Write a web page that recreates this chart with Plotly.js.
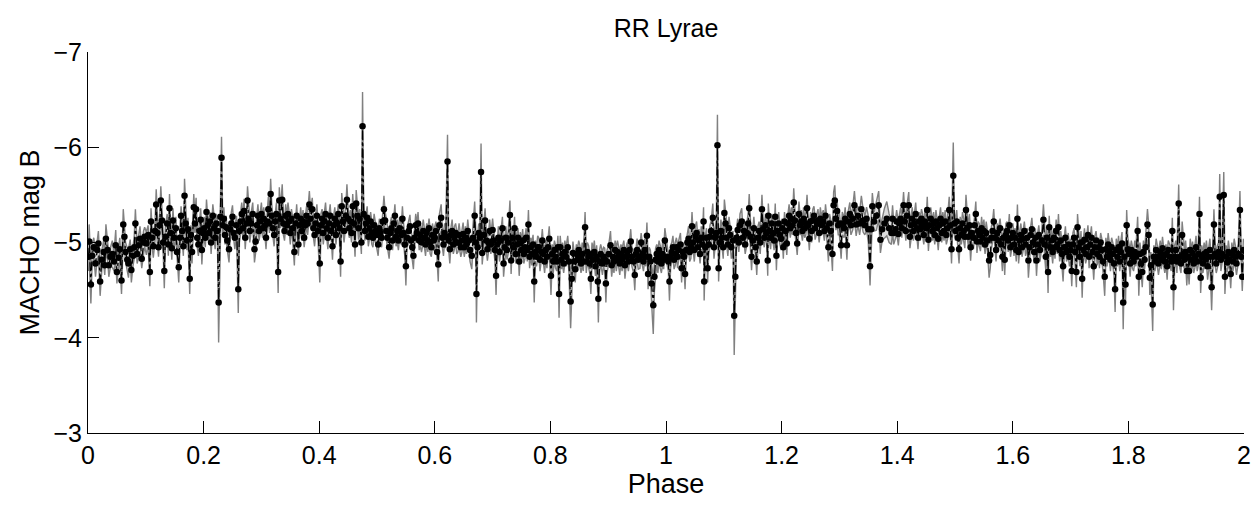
<!DOCTYPE html>
<html>
<head>
<meta charset="utf-8">
<script src="https://cdn.plot.ly/plotly-3.0.1.min.js"></script>
<style>html,body{margin:0;padding:0;background:#fff;}#chart{width:1257px;height:505px;}</style>
</head>
<body>
<div id="chart"></div>
<script>
// Observation phase (two cycles)
const phase = [
0.001,0.002,0.005,0.007,0.010,0.013,0.016,0.018,0.021,0.024,0.027,0.029,0.031,0.034,0.036,0.039,0.042,0.045,0.048,0.050,0.053,0.055,0.058,0.061,0.063,0.065,0.068,0.070,0.073,0.075,0.078,0.080,0.082,0.085,0.088,0.090,0.093,0.096,0.098,
0.101,0.104,0.107,0.109,0.111,0.113,0.116,0.118,0.120,0.122,0.124,0.126,0.128,0.130,0.132,0.134,0.137,0.139,0.141,0.143,0.145,0.147,0.149,0.152,0.154,0.157,0.159,0.161,0.163,0.165,0.167,0.169,0.171,0.173,0.176,0.178,0.180,0.183,0.185,0.187,0.189,0.191,0.193,0.195,0.197,0.199,
0.201,0.203,0.205,0.207,0.209,0.211,0.213,0.216,0.218,0.220,0.222,0.224,0.226,0.229,0.231,0.233,0.235,0.237,0.239,0.241,0.244,0.246,0.248,0.250,0.252,0.254,0.257,0.260,0.262,0.264,0.266,0.268,0.270,0.272,0.274,0.276,0.278,0.280,0.282,0.285,0.288,0.290,0.292,0.294,0.296,0.298,
0.300,0.302,0.304,0.306,0.308,0.310,0.312,0.314,0.316,0.318,0.320,0.322,0.324,0.326,0.329,0.331,0.333,0.336,0.338,0.340,0.342,0.344,0.346,0.348,0.350,0.352,0.354,0.357,0.359,0.361,0.364,0.366,0.368,0.370,0.372,0.374,0.376,0.378,0.380,0.383,0.385,0.388,0.390,0.392,0.394,0.396,0.398,
0.401,0.403,0.405,0.407,0.409,0.411,0.413,0.415,0.417,0.419,0.421,0.423,0.425,0.427,0.429,0.431,0.433,0.435,0.437,0.439,0.441,0.443,0.446,0.448,0.450,0.452,0.454,0.456,0.458,0.460,0.462,0.464,0.466,0.468,0.470,0.473,0.475,0.477,0.479,0.481,0.483,0.485,0.487,0.489,0.491,0.493,0.495,0.497,0.499,
0.502,0.504,0.506,0.508,0.510,0.512,0.514,0.516,0.518,0.521,0.523,0.525,0.527,0.529,0.531,0.533,0.535,0.537,0.539,0.542,0.544,0.546,0.548,0.550,0.552,0.555,0.557,0.559,0.561,0.563,0.565,0.567,0.569,0.571,0.573,0.575,0.577,0.580,0.582,0.584,0.586,0.588,0.590,0.592,0.594,0.596,0.598,
0.600,0.602,0.604,0.606,0.608,0.611,0.613,0.615,0.617,0.619,0.622,0.624,0.626,0.628,0.630,0.632,0.634,0.636,0.638,0.640,0.642,0.645,0.647,0.649,0.651,0.653,0.655,0.657,0.659,0.661,0.664,0.666,0.669,0.671,0.672,0.674,0.676,0.678,0.680,0.682,0.685,0.687,0.689,0.691,0.693,0.695,0.697,0.700,
0.702,0.704,0.706,0.708,0.710,0.712,0.714,0.717,0.719,0.721,0.723,0.725,0.727,0.730,0.732,0.734,0.736,0.738,0.740,0.742,0.744,0.746,0.748,0.750,0.752,0.754,0.756,0.758,0.760,0.762,0.764,0.766,0.768,0.770,0.772,0.774,0.776,0.778,0.780,0.782,0.784,0.786,0.788,0.790,0.792,0.794,0.796,0.798,
0.801,0.803,0.805,0.807,0.809,0.811,0.813,0.815,0.817,0.819,0.821,0.823,0.825,0.827,0.830,0.832,0.835,0.837,0.839,0.841,0.843,0.845,0.847,0.849,0.851,0.853,0.855,0.857,0.860,0.862,0.864,0.866,0.868,0.870,0.872,0.874,0.876,0.878,0.880,0.882,0.883,0.885,0.887,0.890,0.892,0.894,0.896,0.898,
0.901,0.904,0.906,0.908,0.910,0.912,0.914,0.916,0.918,0.920,0.922,0.924,0.927,0.929,0.931,0.933,0.935,0.937,0.939,0.941,0.944,0.946,0.948,0.950,0.952,0.955,0.957,0.959,0.961,0.963,0.965,0.967,0.969,0.971,0.973,0.975,0.978,0.980,0.982,0.984,0.986,0.988,0.990,0.992,0.994,0.996,0.998,
1.002,1.004,1.006,1.008,1.010,1.012,1.014,1.016,1.018,1.020,1.022,1.025,1.027,1.029,1.031,1.033,1.035,1.037,1.039,1.041,1.043,1.045,1.047,1.049,1.051,1.053,1.055,1.057,1.059,1.061,1.063,1.065,1.066,1.068,1.070,1.072,1.074,1.076,1.078,1.081,1.083,1.085,1.087,1.089,1.091,1.093,1.095,1.097,1.099,
1.101,1.103,1.105,1.107,1.109,1.111,1.113,1.116,1.118,1.120,1.122,1.124,1.126,1.128,1.131,1.133,1.135,1.137,1.140,1.142,1.144,1.146,1.148,1.150,1.152,1.155,1.157,1.159,1.161,1.163,1.166,1.168,1.170,1.172,1.174,1.176,1.177,1.179,1.181,1.183,1.185,1.187,1.189,1.191,1.193,1.195,1.197,1.199,
1.201,1.203,1.205,1.207,1.209,1.211,1.213,1.215,1.217,1.219,1.221,1.223,1.225,1.227,1.230,1.232,1.234,1.236,1.238,1.240,1.242,1.244,1.246,1.248,1.250,1.252,1.254,1.256,1.258,1.261,1.263,1.265,1.267,1.269,1.272,1.274,1.276,1.278,1.281,1.283,1.285,1.288,1.290,1.292,1.294,1.296,1.298,
1.300,1.303,1.305,1.308,1.310,1.313,1.315,1.318,1.320,1.323,1.326,1.329,1.332,1.335,1.338,1.341,1.344,1.347,1.350,1.353,1.355,1.357,1.360,1.364,1.368,1.371,1.374,1.378,1.382,1.386,1.390,1.392,1.394,1.397,1.399,
1.402,1.404,1.406,1.408,1.411,1.413,1.415,1.417,1.420,1.422,1.424,1.426,1.428,1.430,1.432,1.434,1.436,1.438,1.440,1.442,1.444,1.446,1.448,1.450,1.452,1.454,1.456,1.458,1.461,1.463,1.465,1.467,1.469,1.471,1.473,1.475,1.477,1.479,1.481,1.483,1.485,1.487,1.490,1.492,1.494,1.497,1.499,
1.501,1.503,1.505,1.507,1.509,1.511,1.513,1.515,1.517,1.519,1.521,1.523,1.525,1.527,1.529,1.532,1.534,1.536,1.538,1.540,1.542,1.544,1.546,1.548,1.550,1.552,1.554,1.556,1.559,1.561,1.563,1.565,1.567,1.569,1.571,1.573,1.575,1.578,1.580,1.582,1.584,1.586,1.588,1.590,1.592,1.594,1.596,1.598,
1.600,1.602,1.604,1.606,1.608,1.610,1.612,1.614,1.616,1.618,1.620,1.622,1.625,1.627,1.629,1.631,1.633,1.635,1.637,1.639,1.641,1.643,1.645,1.647,1.650,1.653,1.655,1.657,1.659,1.661,1.663,1.665,1.667,1.669,1.671,1.673,1.675,1.677,1.679,1.681,1.683,1.685,1.687,1.689,1.691,1.693,1.696,1.698,1.700,
1.702,1.704,1.706,1.708,1.710,1.712,1.714,1.716,1.718,1.720,1.722,1.724,1.726,1.728,1.730,1.732,1.734,1.736,1.738,1.740,1.742,1.744,1.746,1.748,1.750,1.752,1.754,1.756,1.759,1.761,1.763,1.765,1.767,1.769,1.771,1.773,1.775,1.777,1.779,1.781,1.783,1.785,1.787,1.789,1.791,1.793,1.795,1.797,1.799,
1.801,1.803,1.805,1.807,1.809,1.811,1.813,1.816,1.818,1.820,1.822,1.824,1.826,1.828,1.830,1.833,1.835,1.837,1.839,1.842,1.844,1.846,1.848,1.850,1.852,1.855,1.857,1.859,1.861,1.863,1.865,1.867,1.869,1.872,1.874,1.876,1.878,1.880,1.882,1.884,1.887,1.889,1.891,1.893,1.895,1.897,1.899,
1.901,1.903,1.905,1.907,1.909,1.911,1.913,1.915,1.917,1.919,1.921,1.923,1.925,1.927,1.929,1.931,1.933,1.935,1.937,1.939,1.941,1.944,1.946,1.948,1.950,1.952,1.954,1.956,1.958,1.960,1.962,1.965,1.967,1.969,1.971,1.973,1.975,1.977,1.979,1.981,1.983,1.985,1.987,1.990,1.993,1.995,1.997,1.999
];

// MACHO B magnitude at each phase
const magB = [
-4.85,-5.01,-4.56,-4.86,-4.95,-4.78,-4.92,-4.99,-4.59,-4.82,-4.90,-4.76,-5.04,-4.92,-4.76,-4.85,-4.88,-4.80,-4.97,-4.69,-4.84,-4.93,-4.60,-5.19,-5.06,-4.90,-4.82,-4.78,-4.93,-4.71,-4.86,-4.95,-5.20,-4.88,-4.97,-5.04,-4.83,-5.00,-5.06,
-4.99,-5.08,-4.69,-5.22,-5.05,-4.96,-5.12,-5.40,-5.10,-4.95,-5.18,-5.44,-5.23,-5.00,-4.70,-5.06,-5.20,-4.98,-5.36,-5.10,-4.94,-5.23,-5.05,-5.15,-4.90,-4.74,-5.05,-5.28,-5.12,-4.96,-5.49,-5.20,-5.02,-5.14,-4.62,-5.08,-4.90,-5.37,-5.20,-5.35,-5.05,-4.98,-5.12,-5.24,-4.92,-5.10,
-5.15,-5.05,-5.32,-5.18,-5.10,-5.22,-5.00,-5.28,-5.15,-5.05,-5.20,-5.12,-4.37,-5.27,-5.89,-5.18,-5.25,-5.08,-5.16,-5.02,-4.93,-5.14,-5.20,-5.27,-5.10,-5.05,-5.18,-4.51,-5.12,-5.22,-5.30,-5.15,-5.33,-5.05,-5.20,-5.44,-5.25,-5.12,-5.20,-5.30,-4.93,-5.01,-5.18,-5.28,-5.12,-5.22,
-5.30,-5.15,-5.25,-5.18,-5.05,-5.22,-5.35,-5.20,-5.51,-5.28,-5.15,-5.08,-5.22,-5.30,-4.69,-5.44,-5.25,-5.45,-5.20,-5.12,-5.28,-5.18,-5.30,-5.22,-5.10,-5.25,-5.15,-4.90,-5.20,-5.28,-4.98,-5.18,-5.25,-5.12,-5.22,-5.05,-5.18,-5.28,-5.20,-5.40,-5.25,-5.35,-5.15,-5.08,-5.20,-5.28,-5.12,
-4.78,-5.18,-5.25,-5.10,-5.22,-5.30,-5.15,-5.05,-5.20,-5.28,-5.12,-4.96,-5.18,-5.25,-5.08,-5.20,-5.30,-5.15,-4.80,-5.38,-5.22,-5.12,-5.28,-5.45,-5.25,-5.15,-5.22,-5.10,-5.38,-5.20,-4.98,-5.41,-5.28,-5.15,-5.25,-5.00,-6.22,-5.30,-5.12,-5.20,-5.26,-5.06,-5.15,-5.22,-5.10,-5.05,-5.18,-5.12,-5.08,
-4.98,-5.15,-5.10,-5.05,-5.22,-5.35,-5.23,-5.12,-5.05,-4.95,-5.10,-5.15,-5.02,-5.20,-5.28,-5.06,-5.12,-5.02,-5.15,-5.08,-5.25,-5.10,-4.98,-4.75,-5.05,-5.12,-5.17,-5.02,-4.95,-4.86,-5.05,-5.18,-5.10,-5.20,-5.02,-5.08,-5.00,-5.12,-5.05,-4.98,-5.10,-5.02,-5.15,-5.00,-4.95,-5.08,-5.02,
-5.05,-5.12,-4.90,-4.77,-5.18,-5.26,-5.05,-4.98,-5.10,-5.06,-5.85,-5.02,-4.93,-5.08,-5.12,-4.98,-5.05,-5.10,-5.00,-5.00,-5.08,-4.95,-5.02,-5.09,-4.95,-5.05,-4.98,-5.12,-5.02,-4.92,-4.86,-5.05,-5.28,-5.00,-4.46,-4.95,-5.10,-5.05,-5.74,-4.89,-5.08,-5.23,-5.02,-4.93,-5.00,-5.12,-4.98,-5.13,
-5.02,-4.92,-4.65,-4.98,-5.05,-4.90,-5.02,-5.15,-4.78,-4.95,-5.05,-4.92,-5.00,-5.29,-4.81,-5.05,-4.95,-5.15,-4.88,-4.98,-5.05,-4.80,-4.99,-4.92,-5.02,-4.88,-4.95,-5.05,-4.92,-5.19,-4.85,-4.95,-4.88,-4.98,-4.59,-4.90,-4.85,-4.95,-4.95,-4.82,-4.90,-5.02,-4.88,-4.80,-4.92,-4.85,-4.95,-5.04,
-4.65,-4.88,-4.80,-4.92,-4.85,-4.80,-4.95,-4.46,-4.95,-4.82,-4.88,-4.78,-4.90,-4.85,-4.95,-4.80,-4.38,-4.62,-4.89,-4.80,-4.72,-4.88,-4.82,-4.92,-4.85,-4.78,-4.88,-4.80,-5.16,-4.80,-4.90,-4.85,-4.78,-4.62,-4.88,-4.82,-4.90,-4.75,-4.85,-4.59,-4.41,-4.80,-4.88,-4.78,-4.85,-4.82,-4.57,-4.80,
-4.88,-4.97,-4.76,-4.85,-4.80,-4.92,-4.82,-4.90,-4.85,-4.78,-4.88,-4.82,-4.92,-4.76,-4.85,-4.88,-4.80,-4.92,-5.01,-4.85,-4.80,-4.66,-4.88,-4.92,-4.82,-4.85,-5.00,-4.88,-4.80,-4.92,-4.85,-5.07,-4.67,-4.85,-4.80,-4.57,-4.34,-4.64,-4.82,-4.88,-4.80,-4.92,-4.85,-4.78,-4.88,-4.82,-5.02,
-4.85,-4.80,-4.59,-4.85,-4.90,-4.95,-4.82,-4.88,-4.95,-4.85,-4.92,-4.98,-4.73,-4.90,-4.85,-4.67,-4.92,-5.00,-5.04,-4.90,-4.95,-5.17,-5.00,-4.92,-5.06,-5.10,-4.95,-5.02,-4.88,-5.05,-4.98,-5.22,-4.59,-4.95,-5.05,-4.73,-4.98,-5.06,-5.12,-5.26,-4.95,-5.05,-5.10,-6.02,-4.73,-5.00,-5.12,-5.05,-4.95,
-5.31,-5.20,-5.05,-4.98,-5.15,-5.08,-4.95,-5.02,-4.23,-4.64,-5.05,-5.13,-5.00,-5.18,-5.22,-5.05,-5.12,-4.98,-5.10,-5.20,-5.36,-5.06,-4.85,-5.02,-5.15,-4.95,-4.80,-5.05,-5.12,-5.00,-5.35,-5.14,-5.05,-5.18,-5.10,-4.81,-5.28,-5.12,-5.05,-5.20,-5.10,-5.02,-5.27,-4.86,-5.12,-5.20,-5.08,-5.04,
-5.15,-4.95,-5.22,-5.12,-4.99,-5.20,-5.28,-5.15,-5.25,-5.18,-5.42,-5.23,-5.10,-4.99,-5.30,-5.18,-5.22,-5.12,-5.25,-5.15,-5.20,-5.36,-5.18,-5.04,-5.22,-5.12,-5.23,-5.28,-5.15,-5.20,-5.23,-5.10,-5.25,-5.18,-5.22,-5.12,-5.28,-5.15,-4.95,-5.20,-5.12,-4.88,-5.39,-5.44,-5.25,-5.33,-5.18,
-5.20,-4.97,-5.20,-5.15,-5.25,-4.97,-5.22,-5.30,-5.18,-5.25,-5.39,-5.19,-5.28,-5.20,-5.35,-5.23,-5.18,-5.25,-5.14,-4.75,-5.14,-5.38,-5.22,-5.28,-5.39,-5.03,-5.14,-5.20,-5.25,-5.15,-5.10,-5.25,-5.10,-5.14,-5.22,
-5.09,-5.20,-5.25,-5.15,-5.39,-5.22,-5.12,-5.28,-5.39,-5.06,-5.18,-5.25,-5.12,-5.20,-5.30,-5.15,-5.05,-5.22,-5.14,-5.25,-5.18,-5.08,-5.22,-5.15,-5.34,-5.03,-5.18,-5.25,-5.12,-5.20,-5.08,-5.22,-5.15,-5.04,-5.18,-5.25,-5.10,-5.20,-5.12,-5.22,-5.08,-5.15,-5.34,-5.18,-4.93,-5.70,-5.20,
-5.12,-5.22,-5.05,-4.93,-5.15,-5.08,-5.20,-5.12,-5.06,-5.34,-5.15,-5.06,-5.18,-4.95,-5.10,-5.05,-5.18,-5.30,-5.01,-5.12,-5.08,-5.01,-5.15,-5.05,-5.12,-4.98,-5.10,-5.02,-4.81,-4.87,-5.05,-5.12,-5.22,-5.05,-4.92,-5.10,-5.02,-5.15,-4.98,-4.85,-5.05,-4.82,-5.08,-5.12,-5.02,-5.18,-4.95,-5.05,
-5.10,-4.98,-5.05,-4.92,-5.25,-4.90,-5.02,-5.08,-4.95,-5.04,-5.12,-4.98,-5.05,-4.81,-4.95,-5.08,-5.14,-5.00,-4.90,-5.05,-4.81,-4.98,-5.08,-4.92,-5.02,-5.24,-4.98,-4.85,-5.05,-4.69,-5.16,-4.95,-5.02,-4.90,-5.05,-4.95,-5.12,-4.98,-5.16,-4.92,-5.02,-4.88,-4.75,-4.95,-5.05,-4.90,-4.98,-4.85,-4.92,
-4.70,-4.98,-5.05,-4.90,-4.69,-5.16,-4.95,-4.85,-5.00,-4.62,-4.92,-5.03,-4.88,-4.95,-5.08,-4.85,-4.98,-5.05,-4.90,-4.75,-4.95,-5.02,-4.88,-4.95,-4.85,-5.00,-4.92,-4.80,-4.64,-4.93,-4.85,-4.98,-4.90,-4.82,-4.95,-4.88,-4.78,-4.51,-4.92,-4.85,-4.95,-4.80,-4.90,-4.99,-4.37,-4.85,-4.56,-5.18,-4.93,
-4.88,-4.78,-4.92,-4.85,-4.80,-4.90,-4.85,-5.12,-4.64,-4.88,-4.78,-4.69,-4.90,-4.82,-4.95,-5.19,-5.08,-4.63,-4.76,-4.35,-4.85,-4.80,-4.92,-4.85,-4.78,-4.90,-4.82,-4.94,-4.85,-4.80,-4.88,-4.75,-4.92,-4.85,-4.80,-5.12,-4.53,-4.85,-4.92,-4.80,-5.41,-4.85,-4.78,-5.08,-4.88,-4.82,-4.90,
-4.70,-4.85,-4.70,-4.92,-4.82,-4.89,-4.78,-4.85,-4.95,-4.80,-4.88,-5.30,-4.63,-4.85,-4.78,-4.88,-4.82,-4.90,-4.75,-4.85,-4.92,-4.53,-4.85,-5.19,-4.88,-4.78,-4.85,-4.90,-5.48,-4.82,-4.88,-5.50,-4.64,-4.85,-4.79,-4.90,-4.82,-4.67,-4.88,-4.80,-4.92,-4.85,-4.78,-4.88,-5.34,-4.85,-4.64,-4.92
];

// Photometric error of each measurement (mag)
const magErr = [
0.15,0.18,0.20,0.12,0.10,0.14,0.10,0.13,0.15,0.10,0.12,0.10,0.15,0.10,0.12,0.10,0.14,0.10,0.16,0.12,0.10,0.12,0.14,0.16,0.12,0.10,0.12,0.15,0.10,0.13,0.10,0.12,0.15,0.10,0.12,0.13,0.10,0.12,0.10,
0.12,0.10,0.15,0.14,0.10,0.12,0.10,0.16,0.12,0.10,0.12,0.15,0.12,0.10,0.18,0.12,0.10,0.12,0.15,0.10,0.12,0.13,0.10,0.12,0.10,0.16,0.12,0.10,0.12,0.10,0.18,0.12,0.10,0.12,0.16,0.10,0.12,0.14,0.10,0.12,0.10,0.12,0.10,0.12,0.15,0.10,
0.12,0.10,0.13,0.10,0.12,0.10,0.12,0.12,0.10,0.12,0.10,0.12,0.42,0.12,0.22,0.10,0.12,0.10,0.12,0.10,0.14,0.10,0.12,0.12,0.10,0.12,0.10,0.25,0.12,0.10,0.12,0.10,0.13,0.12,0.10,0.15,0.10,0.12,0.10,0.12,0.14,0.12,0.10,0.12,0.10,0.12,
0.12,0.10,0.12,0.10,0.12,0.10,0.13,0.10,0.16,0.12,0.10,0.12,0.10,0.12,0.22,0.14,0.10,0.16,0.12,0.10,0.12,0.10,0.12,0.10,0.12,0.10,0.12,0.14,0.10,0.12,0.12,0.10,0.12,0.10,0.12,0.10,0.12,0.10,0.12,0.14,0.10,0.12,0.10,0.12,0.10,0.12,0.10,
0.20,0.12,0.10,0.12,0.10,0.12,0.10,0.12,0.10,0.12,0.10,0.14,0.10,0.12,0.10,0.12,0.10,0.12,0.16,0.14,0.10,0.12,0.10,0.16,0.12,0.10,0.12,0.10,0.13,0.10,0.13,0.14,0.10,0.12,0.10,0.12,0.36,0.12,0.10,0.12,0.12,0.10,0.12,0.10,0.12,0.10,0.12,0.10,0.12,
0.12,0.10,0.12,0.10,0.12,0.14,0.10,0.12,0.10,0.12,0.10,0.12,0.10,0.12,0.12,0.10,0.12,0.10,0.12,0.10,0.13,0.10,0.12,0.20,0.10,0.12,0.12,0.10,0.12,0.14,0.10,0.12,0.10,0.12,0.10,0.12,0.10,0.12,0.10,0.12,0.10,0.12,0.10,0.12,0.10,0.12,0.10,
0.12,0.10,0.12,0.18,0.12,0.14,0.10,0.12,0.10,0.12,0.28,0.10,0.15,0.10,0.12,0.10,0.12,0.10,0.12,0.10,0.12,0.10,0.12,0.12,0.10,0.12,0.10,0.12,0.10,0.12,0.14,0.10,0.15,0.12,0.30,0.12,0.10,0.12,0.30,0.12,0.10,0.13,0.10,0.12,0.10,0.12,0.10,0.12,
0.10,0.12,0.20,0.10,0.12,0.10,0.12,0.12,0.14,0.10,0.12,0.10,0.12,0.15,0.14,0.10,0.12,0.12,0.10,0.12,0.10,0.15,0.12,0.10,0.12,0.10,0.12,0.10,0.12,0.15,0.12,0.10,0.12,0.10,0.22,0.12,0.10,0.12,0.10,0.12,0.10,0.12,0.10,0.12,0.10,0.12,0.10,0.13,
0.20,0.10,0.12,0.10,0.12,0.10,0.12,0.25,0.12,0.10,0.12,0.10,0.12,0.10,0.12,0.10,0.28,0.15,0.12,0.10,0.14,0.10,0.12,0.10,0.12,0.10,0.12,0.10,0.16,0.12,0.10,0.12,0.10,0.16,0.12,0.10,0.12,0.10,0.12,0.15,0.25,0.12,0.10,0.12,0.10,0.12,0.20,0.12,
0.10,0.15,0.12,0.10,0.12,0.10,0.12,0.12,0.10,0.12,0.10,0.12,0.10,0.14,0.10,0.12,0.10,0.12,0.13,0.10,0.12,0.16,0.10,0.12,0.10,0.12,0.10,0.12,0.10,0.12,0.10,0.14,0.16,0.10,0.12,0.20,0.30,0.15,0.12,0.10,0.12,0.10,0.12,0.10,0.12,0.10,0.13,
0.12,0.10,0.20,0.12,0.10,0.12,0.10,0.12,0.10,0.12,0.10,0.12,0.15,0.10,0.12,0.16,0.10,0.12,0.13,0.10,0.12,0.15,0.10,0.12,0.12,0.12,0.10,0.12,0.10,0.12,0.10,0.15,0.20,0.12,0.10,0.15,0.10,0.12,0.10,0.15,0.12,0.10,0.12,0.32,0.14,0.10,0.12,0.10,0.12,
0.14,0.12,0.10,0.12,0.12,0.10,0.12,0.10,0.41,0.18,0.10,0.12,0.10,0.12,0.14,0.10,0.12,0.10,0.12,0.10,0.15,0.12,0.14,0.10,0.12,0.10,0.14,0.12,0.10,0.12,0.15,0.12,0.10,0.12,0.10,0.16,0.13,0.10,0.12,0.10,0.12,0.10,0.14,0.15,0.10,0.12,0.10,0.12,
0.10,0.12,0.10,0.12,0.12,0.10,0.12,0.10,0.12,0.10,0.15,0.12,0.10,0.12,0.13,0.10,0.12,0.10,0.12,0.10,0.12,0.14,0.10,0.12,0.10,0.12,0.12,0.10,0.12,0.10,0.12,0.10,0.12,0.10,0.12,0.10,0.12,0.10,0.15,0.10,0.12,0.18,0.14,0.16,0.12,0.12,0.10,
0.12,0.14,0.12,0.10,0.12,0.15,0.10,0.12,0.10,0.12,0.15,0.12,0.10,0.12,0.14,0.12,0.10,0.12,0.14,0.20,0.12,0.14,0.10,0.15,0.15,0.14,0.12,0.16,0.18,0.15,0.12,0.14,0.12,0.10,0.12,
0.12,0.10,0.12,0.10,0.14,0.12,0.10,0.12,0.14,0.12,0.10,0.12,0.10,0.12,0.12,0.10,0.12,0.10,0.12,0.10,0.12,0.10,0.12,0.10,0.14,0.12,0.10,0.12,0.10,0.12,0.10,0.12,0.10,0.12,0.10,0.12,0.10,0.12,0.10,0.12,0.10,0.12,0.14,0.12,0.15,0.35,0.12,
0.10,0.12,0.10,0.15,0.12,0.10,0.12,0.10,0.12,0.16,0.12,0.10,0.12,0.14,0.10,0.12,0.10,0.13,0.12,0.10,0.12,0.10,0.12,0.10,0.12,0.10,0.12,0.10,0.18,0.14,0.12,0.10,0.13,0.10,0.12,0.10,0.12,0.10,0.12,0.15,0.10,0.16,0.12,0.10,0.12,0.12,0.10,0.12,
0.10,0.12,0.10,0.12,0.15,0.12,0.10,0.12,0.10,0.12,0.10,0.12,0.10,0.18,0.12,0.10,0.12,0.10,0.12,0.10,0.16,0.12,0.10,0.12,0.10,0.16,0.12,0.14,0.10,0.22,0.12,0.10,0.12,0.12,0.10,0.12,0.12,0.10,0.14,0.12,0.10,0.12,0.16,0.10,0.12,0.10,0.12,0.10,0.12,
0.16,0.12,0.10,0.12,0.16,0.14,0.12,0.10,0.12,0.20,0.12,0.12,0.10,0.12,0.10,0.12,0.10,0.12,0.10,0.14,0.12,0.10,0.12,0.10,0.12,0.10,0.12,0.10,0.20,0.12,0.10,0.12,0.10,0.12,0.10,0.12,0.12,0.24,0.12,0.10,0.12,0.10,0.12,0.12,0.28,0.12,0.20,0.16,0.12,
0.10,0.14,0.10,0.12,0.10,0.12,0.10,0.15,0.20,0.12,0.10,0.16,0.12,0.10,0.12,0.16,0.12,0.18,0.14,0.28,0.12,0.10,0.12,0.10,0.12,0.12,0.10,0.12,0.10,0.12,0.10,0.14,0.10,0.12,0.10,0.14,0.24,0.12,0.10,0.12,0.20,0.12,0.10,0.14,0.12,0.10,0.12,
0.15,0.10,0.14,0.12,0.10,0.12,0.10,0.12,0.12,0.10,0.12,0.18,0.16,0.12,0.10,0.12,0.10,0.12,0.14,0.10,0.12,0.24,0.12,0.16,0.12,0.10,0.12,0.10,0.24,0.12,0.10,0.24,0.18,0.12,0.10,0.12,0.10,0.15,0.12,0.10,0.12,0.10,0.12,0.10,0.20,0.12,0.15,0.12
];

const faintEdge = magB.map((m, i) => m + magErr[i]);
const brightEdge = magB.map((m, i) => m - magErr[i]);

const FONT = 'Liberation Sans, Arial, Helvetica, sans-serif';

const traces = [
  {
    x: phase, y: faintEdge, type: 'scatter', mode: 'lines',
    line: {color: '#808080', width: 1.4}, hoverinfo: 'skip', showlegend: false
  },
  {
    x: phase, y: brightEdge, type: 'scatter', mode: 'lines',
    fill: 'tonexty', fillcolor: 'rgba(205,205,205,0.7)',
    line: {color: '#808080', width: 1.4}, hoverinfo: 'skip', showlegend: false
  },
  {
    x: phase, y: magB, type: 'scatter', mode: 'lines+markers',
    line: {color: '#000000', width: 1.3, dash: 'dashdot'},
    marker: {color: '#000000', size: 6.5, symbol: 'circle'},
    showlegend: false
  }
];

const layout = {
  width: 1257, height: 505,
  margin: {l: 88, r: 13, t: 52, b: 72},
  paper_bgcolor: '#ffffff', plot_bgcolor: '#ffffff',
  font: {family: FONT, color: '#000000', size: 25},
  showlegend: false,
  title: {
    text: 'RR Lyrae', font: {family: FONT, size: 25, color: '#000000'},
    x: 0.5, xref: 'paper', xanchor: 'center',
    y: 1 - 28 / 505, yref: 'container', yanchor: 'middle'
  },
  xaxis: {
    range: [0, 2], tickmode: 'linear', tick0: 0, dtick: 0.2,
    ticks: 'inside', ticklen: 12, tickwidth: 1, tickcolor: '#000000',
    showline: true, linecolor: '#000000', linewidth: 1,
    showgrid: false, zeroline: false, mirror: false,
    tickfont: {family: FONT, size: 25, color: '#000000'},
    title: {text: 'Phase', font: {family: FONT, size: 27, color: '#000000'}, standoff: 6}
  },
  yaxis: {
    range: [-3, -7], tickmode: 'linear', tick0: -7, dtick: 1,
    ticks: 'inside', ticklen: 11, tickwidth: 1, tickcolor: '#000000',
    showline: true, linecolor: '#000000', linewidth: 1,
    showgrid: false, zeroline: false, mirror: false,
    tickfont: {family: FONT, size: 25, color: '#000000'},
    title: {text: 'MACHO mag B', font: {family: FONT, size: 27, color: '#000000'}, standoff: 6}
  }
};

Plotly.newPlot('chart', traces, layout, {displayModeBar: false, staticPlot: true});
</script>
</body>
</html>
